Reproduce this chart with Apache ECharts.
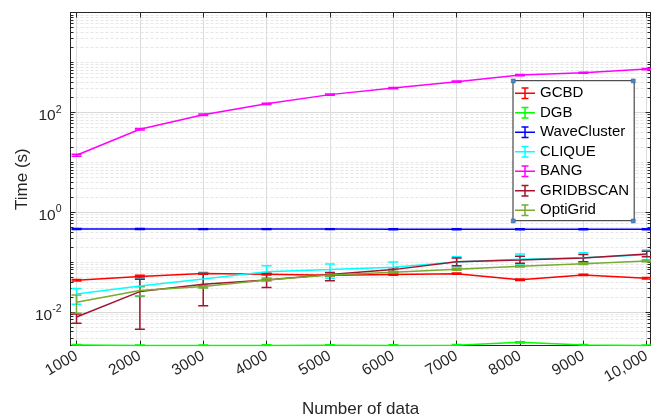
<!DOCTYPE html>
<html>
<head>
<meta charset="utf-8">
<script src="https://cdn.jsdelivr.net/npm/echarts@6/dist/echarts.min.js"></script>
<style>html,body{margin:0;padding:0;background:#fff;}#c{width:654px;height:419px;}</style>
</head>
<body>
<div id="c"></div>
<script>
// ---- data ----
const xValues = [1000, 2000, 3000, 4000, 5000, 6000, 7000, 8000, 9000, 10000];
const xTickLabels = ['1000','2000','3000','4000','5000','6000','7000','8000','9000','10,000'];
const yMajorTicks = [0.01, 1, 100, 10000];
const yLabelTicks = [0.01, 1, 100];

const seriesNames = ['GCBD','DGB','WaveCluster','CLIQUE','BANG','GRIDBSCAN','OptiGrid'];
const seriesColors = ['#FF0000','#00FF00','#0000FF','#00FFFF','#FF00FF','#A2142F','#77AC30'];

const gcbdMean = [0.0430, 0.0509, 0.0587, 0.0567, 0.0541, 0.0561, 0.0583, 0.0440, 0.0550, 0.0471];
const gcbdLow  = [0.0415, 0.0480, 0.0565, 0.0548, 0.0523, 0.0543, 0.0565, 0.0425, 0.0533, 0.0456];
const gcbdHigh = [0.0445, 0.0540, 0.0608, 0.0586, 0.0559, 0.0579, 0.0601, 0.0455, 0.0567, 0.0486];

const dgbMean = [0.00216, 0.00212, 0.00212, 0.00213, 0.00214, 0.00213, 0.00215, 0.00245, 0.00217, 0.00212];
const dgbLow  = [0.00210, 0.00206, 0.00206, 0.00207, 0.00208, 0.00207, 0.00209, 0.00238, 0.00211, 0.00206];
const dgbHigh = [0.00222, 0.00218, 0.00218, 0.00219, 0.00220, 0.00219, 0.00221, 0.00252, 0.00223, 0.00218];

const waveMean = [0.457, 0.457, 0.456, 0.456, 0.456, 0.455, 0.455, 0.455, 0.455, 0.455];
const waveLow  = [0.447, 0.447, 0.446, 0.446, 0.446, 0.445, 0.445, 0.445, 0.445, 0.445];
const waveHigh = [0.467, 0.467, 0.466, 0.466, 0.466, 0.465, 0.465, 0.465, 0.465, 0.465];

const cliqueMean = [0.0229, 0.0331, 0.0457, 0.0640, 0.0703, 0.0780, 0.1000, 0.1130, 0.1220, 0.1400];
const cliqueLow  = [0.0142, 0.0203, 0.0307, 0.0484, 0.0471, 0.0612, 0.0794, 0.0912, 0.0967, 0.1100];
const cliqueHigh = [0.0293, 0.0460, 0.0621, 0.0845, 0.0912, 0.1000, 0.1280, 0.1445, 0.1540, 0.1740];

const bangMean = [13.8, 45.7, 89, 148, 226, 306, 411, 557, 622, 735];
const bangLow  = [13.2, 44.0, 86, 144, 220, 298, 400, 540, 606, 716];
const bangHigh = [14.4, 47.4, 92, 152, 232, 314, 422, 574, 638, 754];

const gridbscanMean = [0.0079, 0.0255, 0.0357, 0.0437, 0.0561, 0.0703, 0.1016, 0.1096, 0.1200, 0.1445];
const gridbscanLow  = [0.00593, 0.00447, 0.0132, 0.0307, 0.0423, 0.0630, 0.0845, 0.0940, 0.1016, 0.1280];
const gridbscanHigh = [0.00912, 0.0450, 0.0593, 0.0593, 0.0612, 0.0770, 0.1200, 0.1300, 0.1420, 0.1635];

const optiMean = [0.0156, 0.0267, 0.0321, 0.0437, 0.0550, 0.0622, 0.0713, 0.0819, 0.0926, 0.1050];
const optiLow  = [0.0094, 0.0209, 0.0300, 0.0415, 0.0525, 0.0595, 0.0685, 0.0790, 0.0895, 0.1010];
const optiHigh = [0.0219, 0.0320, 0.0343, 0.0460, 0.0575, 0.0650, 0.0740, 0.0850, 0.0960, 0.1090];

const allMean = [gcbdMean, dgbMean, waveMean, cliqueMean, bangMean, gridbscanMean, optiMean];
const allLow  = [gcbdLow, dgbLow, waveLow, cliqueLow, bangLow, gridbscanLow, optiLow];
const allHigh = [gcbdHigh, dgbHigh, waveHigh, cliqueHigh, bangHigh, gridbscanHigh, optiHigh];

// minor tick positions (2..9 x 10^k and odd decades)
const yMinorTicks = [];
for (let k = -3; k <= 3; k++) {
  for (let m = 1; m <= 9; m++) {
    if (m === 1 && k % 2 === 0) continue;
    yMinorTicks.push(+(m * Math.pow(10, k)).toPrecision(6));
  }
}

const FONT = "'Liberation Sans', Arial, Helvetica, sans-serif";
const AX = '#262626';
const Y_MIN = 0.0021, Y_MAX = 10000, X_MIN = 905, X_MAX = 10060;

const chart = echarts.init(document.getElementById('c'), null, {renderer: 'canvas'});

function errRender(color) {
  return function (params, api) {
    const x = api.value(0), lo = api.value(1), hi = api.value(2);
    const a = api.coord([x, lo]), b = api.coord([x, hi]);
    const w = 5;
    const st = {stroke: color, lineWidth: 1.5, fill: null};
    return {type: 'group', children: [
      {type: 'line', shape: {x1: a[0], y1: a[1], x2: b[0], y2: b[1]}, style: st},
      {type: 'line', shape: {x1: a[0] - w, y1: a[1], x2: a[0] + w, y2: a[1]}, style: st},
      {type: 'line', shape: {x1: b[0] - w, y1: b[1], x2: b[0] + w, y2: b[1]}, style: st}
    ]};
  };
}

const series = [];
seriesNames.forEach((name, i) => {
  series.push({
    name: name, type: 'line', xAxisIndex: 0, yAxisIndex: 0,
    data: xValues.map((x, j) => [x, allMean[i][j]]),
    symbol: 'none', color: seriesColors[i],
    lineStyle: {color: seriesColors[i], width: 1.5},
    animation: false, clip: true
  });
  series.push({
    name: name, type: 'custom', xAxisIndex: 0, yAxisIndex: 0,
    data: xValues.map((x, j) => [x, allLow[i][j], allHigh[i][j]]),
    encode: {x: 0, y: [1, 2]},
    color: seriesColors[i],
    renderItem: errRender(seriesColors[i]),
    animation: false, clip: true
  });
});

const errIcon = 'path://M0,5.25h20v1.5h-20z M9.25,0h1.5v12h-1.5z M6.5,0h7v1.5h-7z M6.5,10.5h7v1.5h-7z';

const commonY = {type: 'log', logBase: 10, min: Y_MIN, max: Y_MAX};

const option = {
  backgroundColor: '#fff',
  animation: false,
  grid: {left: 70.5, right: 3.5, top: 12.5, bottom: 73.3, containLabel: false, outerBoundsMode: 'none'},
  legend: {
    orient: 'vertical', left: 513, top: 80.7,
    padding: [5, 5, 3, 2],
    itemWidth: 20, itemHeight: 12, itemGap: 4.5,
    backgroundColor: '#fff', borderColor: AX, borderWidth: 1,
    textStyle: {fontFamily: FONT, fontSize: 15, color: '#000', lineHeight: 12},
    data: seriesNames.map(n => ({name: n, icon: errIcon}))
  },
  xAxis: [
    {
      type: 'value', min: X_MIN, max: X_MAX, position: 'bottom',
      name: 'Number of data', nameLocation: 'middle', nameGap: 55, nameMoveOverlap: false,
      nameTextStyle: {fontFamily: FONT, fontSize: 17, color: AX},
      axisLine: {show: true, onZero: false, lineStyle: {color: AX, width: 1}},
      axisTick: {show: true, inside: true, length: 5, customValues: xValues, lineStyle: {color: AX}},
      axisLabel: {
        show: true, customValues: xValues, rotate: 30, margin: 9,
        fontFamily: FONT, fontSize: 15.5, color: AX,
        formatter: v => xTickLabels[xValues.indexOf(v)] || ''
      },
      splitLine: {show: true, lineStyle: {color: '#dcdcdc', width: 1}}
    },
    {
      type: 'value', min: X_MIN, max: X_MAX, position: 'top',
      axisLine: {show: true, onZero: false, lineStyle: {color: AX, width: 1}},
      axisTick: {show: true, inside: true, length: 5, customValues: xValues, lineStyle: {color: AX}},
      axisLabel: {show: false},
      splitLine: {show: false}
    }
  ],
  yAxis: [
    Object.assign({}, commonY, {
      position: 'left',
      name: 'Time (s)', nameLocation: 'middle', nameGap: 40, nameRotate: 90, nameMoveOverlap: false,
      nameTextStyle: {fontFamily: FONT, fontSize: 17, color: AX},
      axisLine: {show: true, onZero: false, lineStyle: {color: AX, width: 1}},
      axisTick: {show: true, inside: true, length: 5, customValues: yMajorTicks, lineStyle: {color: AX}},
      axisLabel: {
        show: true, customValues: yLabelTicks, margin: 9,
        formatter: v => '{b|10}{s|' + Math.round(Math.log10(v)) + '}',
        rich: {
          b: {fontFamily: FONT, fontSize: 15.5, color: AX, padding: [7, 0, 0, 0]},
          s: {fontFamily: FONT, fontSize: 10.5, color: AX, padding: [0, 0, 5, 0]}
        }
      },
      splitLine: {show: true, lineStyle: {color: '#d9d9d9', width: 1}}
    }),
    Object.assign({}, commonY, {
      position: 'left',
      axisLine: {show: false, onZero: false},
      axisTick: {show: true, inside: true, length: 3, customValues: yMinorTicks, lineStyle: {color: AX}},
      axisLabel: {show: false},
      splitLine: {show: true, lineStyle: {color: '#e6e6e6', width: 1, type: [3, 2]}}
    }),
    Object.assign({}, commonY, {
      position: 'right',
      axisLine: {show: true, onZero: false, lineStyle: {color: AX, width: 1}},
      axisTick: {show: true, inside: true, length: 5, customValues: yMajorTicks, lineStyle: {color: AX}},
      axisLabel: {show: false},
      splitLine: {show: false}
    }),
    Object.assign({}, commonY, {
      position: 'right',
      axisLine: {show: false, onZero: false},
      axisTick: {show: true, inside: true, length: 3, customValues: yMinorTicks, lineStyle: {color: AX}},
      axisLabel: {show: false},
      splitLine: {show: false}
    })
  ],
  series: series,
  graphic: [
    {type: 'rect', left: 511, top: 78.7, shape: {width: 4, height: 4}, style: {fill: '#4f86c6', stroke: '#2c5f9e', lineWidth: 0.5}, z: 100},
    {type: 'rect', left: 631, top: 78.7, shape: {width: 4, height: 4}, style: {fill: '#4f86c6', stroke: '#2c5f9e', lineWidth: 0.5}, z: 100},
    {type: 'rect', left: 511, top: 218.7, shape: {width: 4, height: 4}, style: {fill: '#4f86c6', stroke: '#2c5f9e', lineWidth: 0.5}, z: 100},
    {type: 'rect', left: 631, top: 218.7, shape: {width: 4, height: 4}, style: {fill: '#4f86c6', stroke: '#2c5f9e', lineWidth: 0.5}, z: 100}
  ]
};
chart.setOption(option);
</script>
</body>
</html>
